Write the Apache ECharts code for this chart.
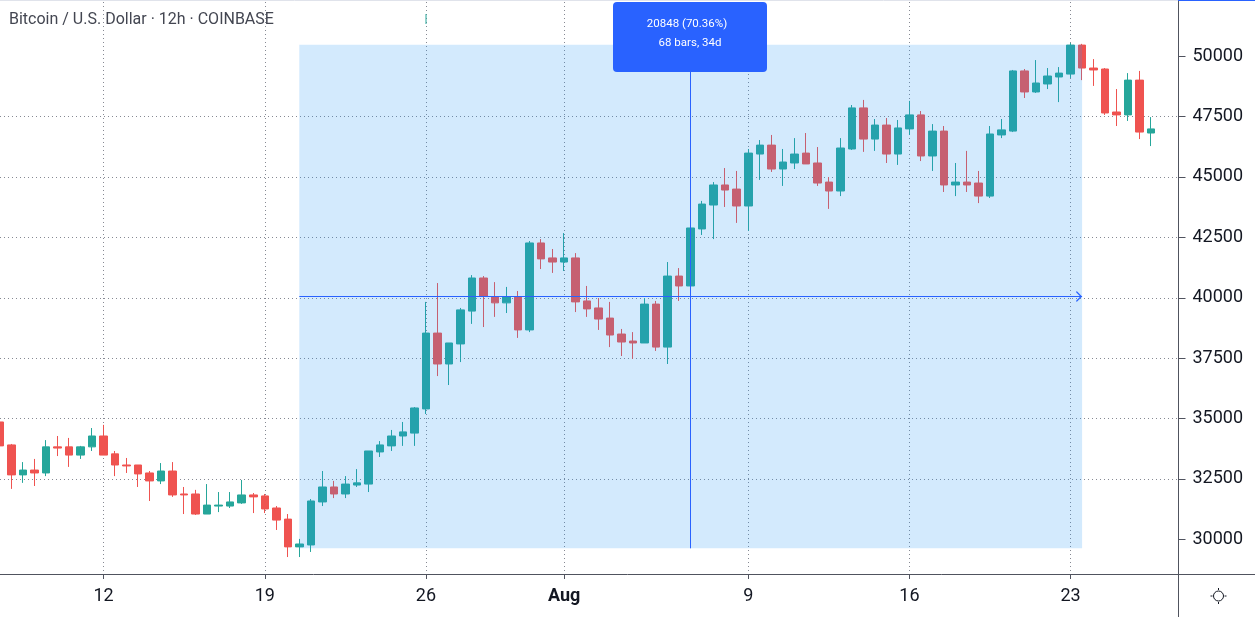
<!DOCTYPE html>
<html><head><meta charset="utf-8">
<style>html,body{margin:0;padding:0;background:#fff}#c{width:1255px;height:617px}</style>
<script src="https://cdn.jsdelivr.net/npm/echarts@6/dist/echarts.min.js"></script>
</head><body><div id="c"></div>
<script>
const opens=[34860,33910,32670,32870,32750,33830,33830,33490,33830,34280,33540,33080,33080,32750,32420,32830,31880,31880,31050,31380,31380,31510,31840,31800,31300,30840,29690,29770,31550,32170,31880,32250,32290,33620,33870,34280,34400,
35400,38540,37260,38090,39450,40820,40030,39790,40030,38670,42270,41650,41480,41650,39870,39580,39160,38500,38210,38130,39740,37960,40900,40490,
42850,43840,44670,44500,43800,45950,46320,45330,45580,45990,45580,44790,44420,46160,47860,46570,47150,45950,46990,47570,45870,46900,44670,44790,44750,44210,
46740,46900,49390,48520,48850,49140,49260,50460,49510,49470,47690,47570,49010,46820];
const closes=[33870,32670,32870,32750,33830,33780,33490,33830,34280,33490,33080,33040,32710,32420,32830,31840,31840,31050,31420,31420,31550,31840,31760,31260,30800,29690,29810,31590,32170,31880,32290,32340,33660,33910,34280,34450,35440,
38540,37260,38130,39500,40820,40070,39790,40030,38670,42270,41610,41480,41650,39830,39540,39120,38460,38170,38130,39740,37960,40900,40490,42890,
43880,44670,44460,43800,45990,46320,45330,45620,45950,45540,44750,44420,46200,47860,46570,47150,45950,47030,47570,45870,46900,44670,44790,44670,44210,46780,
46950,49390,48520,48890,49180,49300,50460,49510,49430,47650,47570,49010,46860,46990];
const lows=[33740,32090,32340,32210,32620,33450,33000,33330,33660,33490,32620,32750,32170,31590,32290,31760,31050,31010,31050,31130,31300,31470,31090,31090,30390,29270,29270,29480,31380,31710,31710,32170,31960,33410,33660,33870,33870,
35190,36760,36390,37340,38920,38790,39210,39370,38340,38580,41190,41030,41110,39410,39210,38670,37960,37590,37470,38130,37800,37260,39870,40490,
42600,42430,43760,43100,42770,44880,45210,44630,45330,45540,44630,43680,44210,46120,46040,46080,45580,45500,46740,45660,45250,44380,44210,44380,43920,44130,
46610,46860,48270,48480,48640,48100,49100,49010,48770,47570,47110,47320,46570,46280];
const highs=[35110,33950,33200,33330,34110,34280,34200,33870,34610,34740,33660,33370,33080,32830,33160,33200,32170,32050,32290,31960,31960,32460,31920,31880,31380,31050,30020,31670,32830,32420,32620,32910,33660,34070,34530,34860,35480,
39830,40610,38130,39580,40940,40900,40650,40450,40280,42350,42430,42020,42680,41850,40490,39990,39830,38710,38580,39990,39870,41480,41230,42890,
44010,44790,45370,45250,46160,46530,46740,46160,46610,46820,46240,45000,46610,47980,48190,47400,47440,47360,48150,47730,47190,47110,45580,46080,45250,47110,
47400,49430,49470,49840,49510,49550,50550,50510,49880,49510,48640,49300,49390,47480];
const tickIndex=[9,23,37,49,65,79,93];
const tickLabels=['12','19','26','Aug','9','16','23'];
const priceTicks=[30000,32500,35000,37500,40000,42500,45000,47500,50000];
const rangeLow=29630, rangeHigh=50478, rangeStart=26, rangeEnd=94, rangeMid=60;
const headline='Bitcoin / U.S. Dollar · 12h · COINBASE';
const noteLines=['20848 (70.36%)','68 bars, 34d'];

const TEAL='#26a69a',RED='#ef5350',BLUE='#2962ff',AXIS='#50535e',GRID='#868993',INK='#131722',FONT='Roboto, sans-serif';
const candleRows=opens.map((o,i)=>[o,closes[i],lows[i],highs[i]]);
const bandCats=Array.from({length:104},(_,i)=>String(i));
const axisCats=Array.from({length:110},(_,i)=>{const k=tickIndex.indexOf(i);return k>=0?tickLabels[k]:''});
const isTick=(i)=>tickIndex.includes(i);
const chevron='path://M6,0 L6,10 L12,19 L10.6,20 L6,13 L1.4,20 L0,19 L6,10 Z';
const mid=(rangeLow+rangeHigh)/2;

const chart=echarts.init(document.getElementById('c'),null,{renderer:'canvas'});
chart.setOption({
 animation:false,backgroundColor:'#ffffff',
 title:{text:headline,left:4,top:7,textStyle:{fontFamily:FONT,fontWeight:'normal',fontSize:16,color:'#434651'}},
 grid:[
  {left:0,width:1185.7,top:0,height:599.8,containLabel:false},
  {left:0,width:1254.8,top:2,bottom:43,containLabel:false}
 ],
 xAxis:[
  {type:'category',gridIndex:0,data:bandCats,show:false,boundaryGap:false},
  {type:'category',gridIndex:1,data:axisCats,boundaryGap:false,
   axisLine:{show:true,lineStyle:{color:AXIS,width:1}},
   axisTick:{show:true,length:5,interval:(i)=>isTick(i),lineStyle:{color:AXIS}},
   axisLabel:{show:true,interval:(i)=>isTick(i),margin:13,fontFamily:FONT,fontSize:18,color:INK,
     formatter:(v)=>v==='Aug'?'{b|Aug}':v,rich:{b:{fontFamily:FONT,fontSize:18,fontWeight:'bold',color:INK}}},
   splitLine:{show:true,interval:(i)=>isTick(i),lineStyle:{color:GRID,type:[1,3],width:1}}}
 ],
 yAxis:[
  {type:'value',gridIndex:0,position:'right',offset:-7.2,min:27500,max:52326,interval:2500,
   axisLine:{show:false},
   axisTick:{show:true,length:7,customValues:priceTicks,lineStyle:{color:AXIS}},
   axisLabel:{show:true,margin:14,padding:[3,0,0,0],customValues:priceTicks,fontFamily:FONT,fontSize:18,color:INK,formatter:(v)=>String(v)},
   splitLine:{show:true,showMinLine:false,showMaxLine:false,lineStyle:{color:GRID,type:[1,3],width:1}}},
  {type:'value',gridIndex:1,show:false,min:0,max:1}
 ],
 series:[{
  type:'candlestick',xAxisIndex:0,yAxisIndex:0,data:candleRows,barWidth:8,z:3,silent:true,
  itemStyle:{color:TEAL,color0:RED,borderColor:TEAL,borderColor0:RED,borderWidth:1},
  markArea:{silent:true,z:6,itemStyle:{color:'rgba(33,150,243,0.2)'},
   data:[[{xAxis:rangeStart,yAxis:rangeHigh},{xAxis:rangeEnd,yAxis:rangeLow}]]},
  markLine:{silent:true,z:7,animation:false,lineStyle:{color:BLUE,width:1,type:'solid'},label:{show:false},symbol:['none','none'],
   data:[
    [{xAxis:rangeStart,yAxis:mid,symbol:'none'},{xAxis:rangeEnd,yAxis:mid,symbol:chevron,symbolSize:[11,12],itemStyle:{color:'#6f94ff'}}],
    [{xAxis:rangeMid,yAxis:rangeLow,symbol:'none'},{xAxis:rangeMid,yAxis:rangeHigh,symbol:'none'}]
   ]}
 }],
 graphic:[
  {type:'rect',z:100,shape:{x:613,y:2,width:154,height:70,r:4},style:{fill:BLUE}},
  {type:'text',z:101,style:{text:noteLines[0],x:687,y:24,align:'center',verticalAlign:'middle',fill:'#fff',font:'11.5px '+FONT}},
  {type:'text',z:101,style:{text:noteLines[1],x:690,y:43,align:'center',verticalAlign:'middle',fill:'#fff',font:'11.5px '+FONT}},
  {type:'line',z:50,shape:{x1:0,y1:0.5,x2:1178,y2:0.5},style:{stroke:'#e0e3eb',lineWidth:1}},
  {type:'line',z:50,shape:{x1:1178,y1:0.5,x2:1255,y2:0.5},style:{stroke:BLUE,lineWidth:1}},
  {type:'line',z:50,shape:{x1:1178.5,y1:1,x2:1178.5,y2:617},style:{stroke:AXIS,lineWidth:1}},
  {type:'line',z:50,shape:{x1:426,y1:14,x2:426,y2:24},style:{stroke:TEAL,lineWidth:1}},
  {type:'circle',z:50,shape:{cx:1218.5,cy:596,r:5},style:{fill:'#fff',stroke:INK,lineWidth:1}},
  {type:'line',z:50,shape:{x1:1218.5,y1:588,x2:1218.5,y2:590},style:{stroke:INK,lineWidth:1}},
  {type:'line',z:50,shape:{x1:1218.5,y1:602,x2:1218.5,y2:604},style:{stroke:INK,lineWidth:1}},
  {type:'line',z:50,shape:{x1:1210.5,y1:596,x2:1212.5,y2:596},style:{stroke:INK,lineWidth:1}},
  {type:'line',z:50,shape:{x1:1224.5,y1:596,x2:1226.5,y2:596},style:{stroke:INK,lineWidth:1}}
 ]
});
</script></body></html>
